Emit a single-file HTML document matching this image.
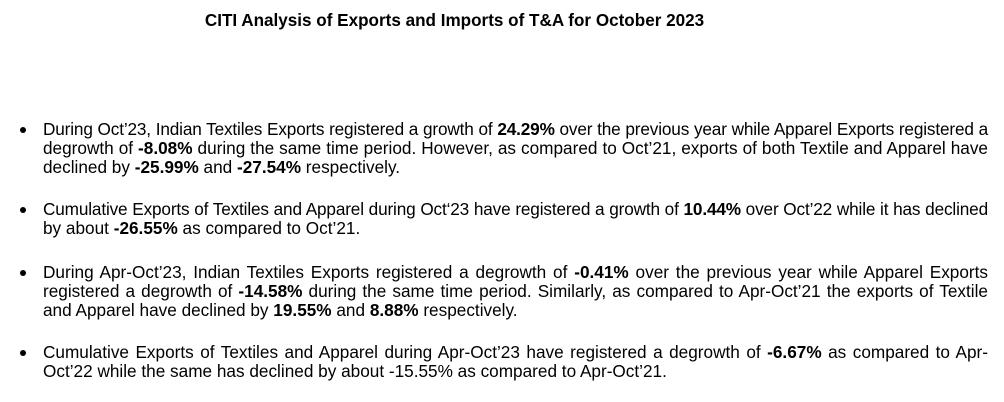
<!DOCTYPE html>
<html><head><meta charset="utf-8"><style>
body{margin:0;width:1004px;height:402px;background:#fff;font-family:"Liberation Sans",Arial,sans-serif;color:#000;position:relative;overflow:hidden}
.t{position:absolute;top:11px;left:0;width:909px;text-align:center;font-weight:bold;font-size:17.1px}
.l{position:absolute;left:43px;width:945px;font-size:17.2px;line-height:19px;height:19px;white-space:nowrap;text-align:justify;text-align-last:justify}
.e{text-align-last:left}
.s{letter-spacing:-0.15px;word-spacing:-1px}
.b{position:absolute;left:20px;width:6px;height:6px;border-radius:50%;background:#000}
</style></head><body>
<div class="t">CITI Analysis of Exports and Imports of T&amp;A for October 2023</div>
<div class="b" style="top:127px"></div>
<div class="l s" style="top:120px">During Oct’23, Indian Textiles Exports registered a growth of <b>24.29%</b> over the previous year while Apparel Exports registered a</div>
<div class="l" style="top:139px">degrowth of <b>-8.08%</b> during the same time period. However, as compared to Oct’21, exports of both Textile and Apparel have</div>
<div class="l e" style="top:158px">declined by <b>-25.99%</b> and <b>-27.54%</b> respectively.</div>
<div class="b" style="top:207px"></div>
<div class="l s" style="top:200px">Cumulative Exports of Textiles and Apparel during Oct‘23 have registered a growth of <b>10.44%</b> over Oct’22 while it has declined</div>
<div class="l e" style="top:219px">by about <b>-26.55%</b> as compared to Oct’21.</div>
<div class="b" style="top:270px"></div>
<div class="l" style="top:263px">During Apr-Oct’23, Indian Textiles Exports registered a degrowth of <b>-0.41%</b> over the previous year while Apparel Exports</div>
<div class="l" style="top:282px">registered a degrowth of <b>-14.58%</b> during the same time period. Similarly, as compared to Apr-Oct’21 the exports of Textile</div>
<div class="l e" style="top:301px">and Apparel have declined by <b>19.55%</b> and <b>8.88%</b> respectively.</div>
<div class="b" style="top:350px"></div>
<div class="l" style="top:343px">Cumulative Exports of Textiles and Apparel during Apr-Oct’23 have registered a degrowth of <b>-6.67%</b> as compared to Apr-</div>
<div class="l e" style="top:362px">Oct’22 while the same has declined by about -15.55% as compared to Apr-Oct’21.</div>
</body></html>
